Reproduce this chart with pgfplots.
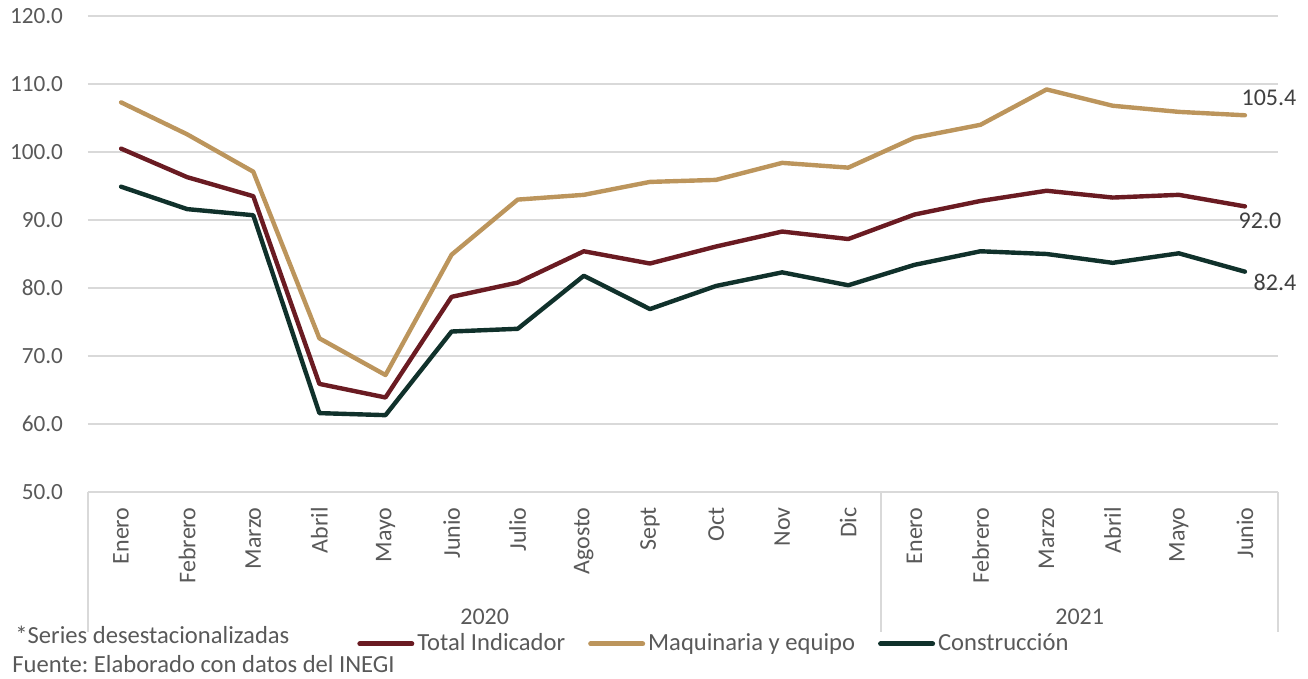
\documentclass[border=0pt]{standalone}
\usepackage{pgfplots}
\pgfplotsset{compat=1.18}
\usepackage{fontspec}
\setmainfont{Carlito}
\frenchspacing
\definecolor{cTot}{HTML}{6A1B22}
\definecolor{cMaq}{HTML}{BC955C}
\definecolor{cCon}{HTML}{10312B}
\definecolor{cGrid}{HTML}{D9D9D9}
\definecolor{cTxt}{HTML}{595959}
\definecolor{cLab}{HTML}{404040}

\begin{document}
\begin{tikzpicture}[font=\fontsize{11.6}{13}\selectfont]
\useasboundingbox (-44pt,-93.5pt) rectangle (610pt,246pt);
\begin{axis}[
 at={(0,0)}, anchor=south west,
 scale only axis, width=595pt, height=238pt,
 xmin=-0.5, xmax=17.5, ymin=50, ymax=120,
 ytick={50,60,...,120},
 xtick={0,...,17},
 xticklabels={Enero,Febrero,Marzo,Abril,Mayo,Junio,Julio,Agosto,Sept,Oct,Nov,Dic,Enero,Febrero,Marzo,Abril,Mayo,Junio},
 axis x line*=bottom, axis y line*=left,
 x axis line style={draw=cGrid, line width=1pt, -},
 y axis line style={draw=none},
 major tick length=0pt,
 ymajorgrids, major grid style={cGrid, line width=1pt},
 /pgf/number format/fixed, /pgf/number format/fixed zerofill,
 /pgf/number format/precision=1, /pgf/number format/assume math mode=true,
 yticklabel style={text=cTxt, xshift=-9pt},
 xticklabel style={text=cTxt, rotate=90, anchor=east, inner sep=0pt, font=\fontsize{12}{14}\selectfont},
 xticklabel shift=7.5pt,
 clip=false,
 legend columns=3,
 legend style={draw=none, fill=none, at={(axis description cs:0.226,-0.319)}, anchor=west, inner sep=0pt,
   font=\fontsize{12.3}{14}\selectfont,
   nodes={text=cTxt, inner sep=1.5pt},
   /tikz/every even column/.append style={column sep=10pt}},
 legend image code/.code={\draw[#1, line width=2.5pt, line cap=round] (0pt,0pt) -- (26pt,0pt);},
 every axis plot/.append style={line width=2.2pt, line join=round, line cap=round},
]
\addplot[cTot] coordinates {(0,100.5) (1,96.3) (2,93.5) (3,65.9) (4,63.9) (5,78.7) (6,80.8) (7,85.4) (8,83.6) (9,86.1) (10,88.3) (11,87.2) (12,90.8) (13,92.8) (14,94.3) (15,93.3) (16,93.7) (17,92.0)};
\addlegendentry{Total Indicador}
\addplot[cMaq] coordinates {(0,107.3) (1,102.6) (2,97.1) (3,72.6) (4,67.2) (5,84.9) (6,93.0) (7,93.7) (8,95.6) (9,95.9) (10,98.4) (11,97.7) (12,102.1) (13,104.0) (14,109.2) (15,106.8) (16,105.9) (17,105.4)};
\addlegendentry{Maquinaria y equipo}
\addplot[cCon] coordinates {(0,94.9) (1,91.6) (2,90.7) (3,61.6) (4,61.3) (5,73.6) (6,74.0) (7,81.8) (8,76.9) (9,80.3) (10,82.3) (11,80.4) (12,83.4) (13,85.4) (14,85.0) (15,83.7) (16,85.1) (17,82.4)};
\addlegendentry{Construcción}
\draw[cGrid, line width=1pt] (axis cs:-0.5,50) -- ++(0pt,-70pt);
\draw[cGrid, line width=1pt] (axis cs:11.5,50) -- ++(0pt,-70pt);
\draw[cGrid, line width=1pt] (axis cs:17.5,50) -- ++(0pt,-70pt);
\node[text=cTxt, font=\fontsize{12}{14}\selectfont] at ([yshift=-62.5pt]axis cs:5.5,50) {2020};
\node[text=cTxt, font=\fontsize{12}{14}\selectfont] at ([yshift=-62.5pt]axis cs:14.5,50) {2021};
\node[text=cLab, font=\fontsize{12}{14}\selectfont] at ([xshift=12pt,yshift=8.75pt]axis cs:17,105.4) {105.4};
\node[text=cLab, font=\fontsize{12}{14}\selectfont] at ([xshift=7.5pt,yshift=-7pt]axis cs:17,92.0) {92.0};
\node[text=cLab, font=\fontsize{12}{14}\selectfont] at ([xshift=15pt,yshift=-5.5pt]axis cs:17,82.4) {82.4};
\node[anchor=west, text=cTxt, inner sep=0pt, font=\fontsize{12.3}{14}\selectfont] at ([xshift=-36.5pt,yshift=-71.5pt]axis cs:-0.5,50) {*Series desestacionalizadas};
\node[anchor=west, text=cTxt, inner sep=0pt, font=\fontsize{12.3}{14}\selectfont] at ([xshift=-38pt,yshift=-86pt]axis cs:-0.5,50) {Fuente: Elaborado con datos del INEGI};
\end{axis}
\end{tikzpicture}
\end{document}
